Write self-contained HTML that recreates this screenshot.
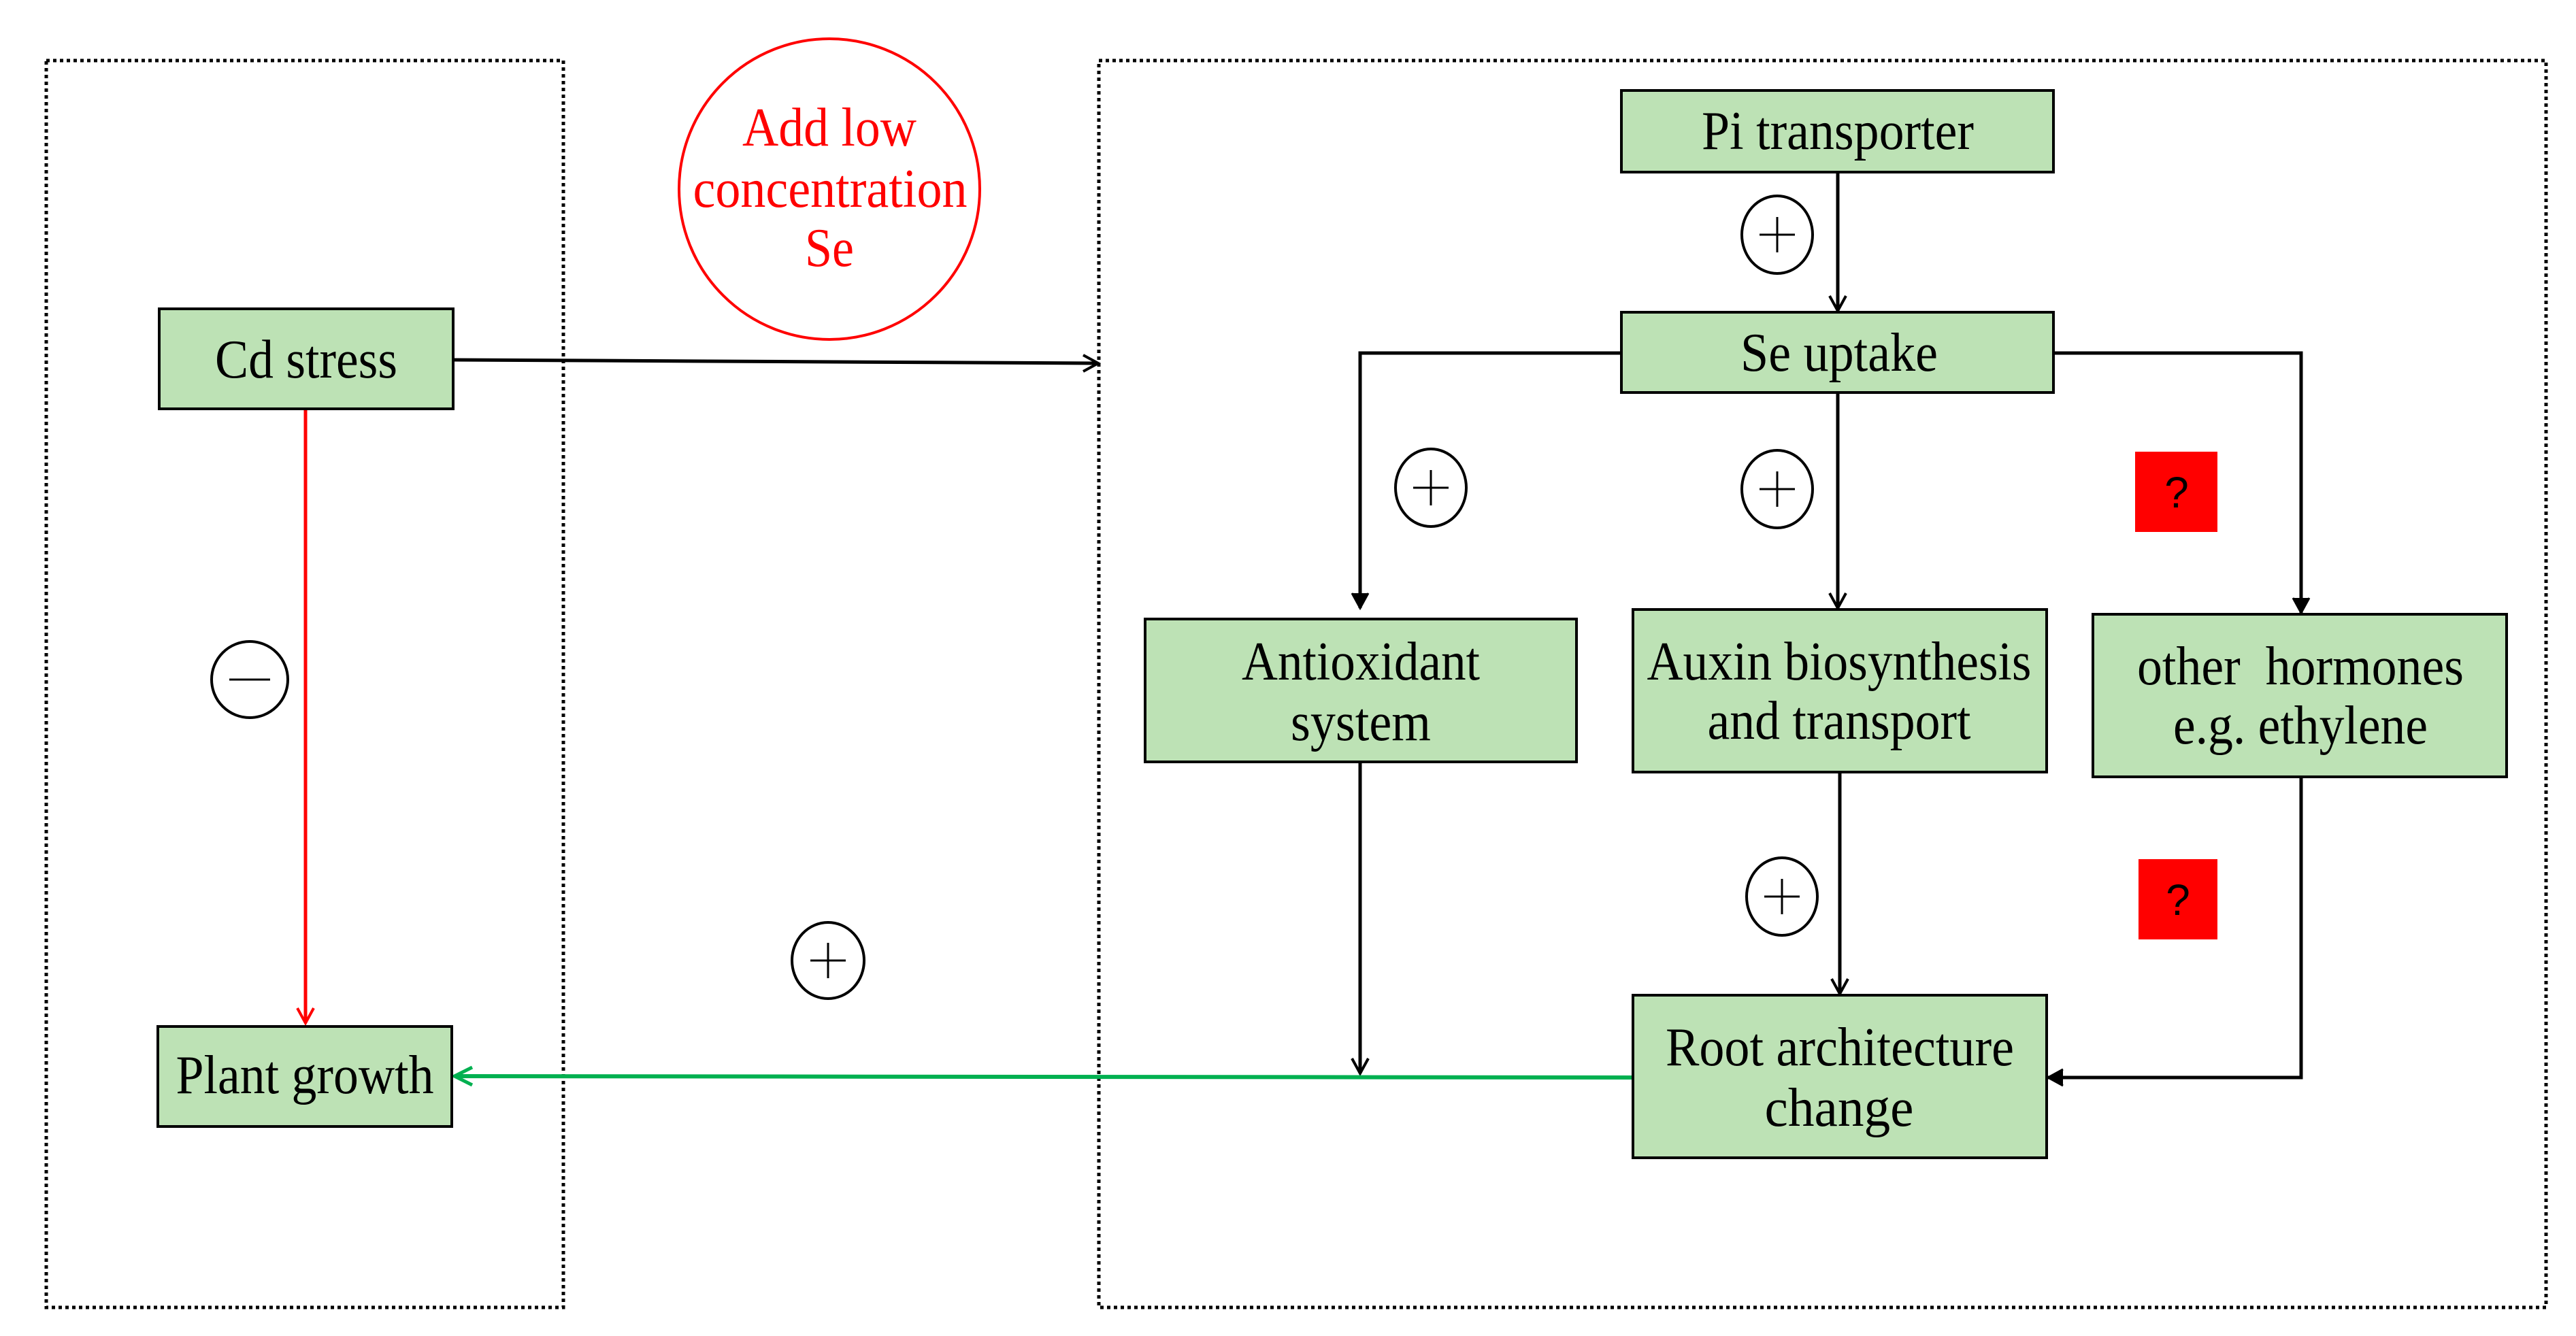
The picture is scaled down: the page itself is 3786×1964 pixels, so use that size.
<!DOCTYPE html>
<html><head><meta charset="utf-8"><style>html,body{margin:0;padding:0;background:#fff}svg{display:block}svg text{font-family:"Liberation Serif","Times New Roman",serif}</style></head>
<body>
<svg width="3786" height="1964" viewBox="0 0 3786 1964" xmlns="http://www.w3.org/2000/svg" font-size="80">
<g fill="none" stroke="#000" stroke-width="5" stroke-dasharray="5,5">
<rect x="68" y="89" width="760" height="1833"/>
<rect x="1615" y="89" width="2127" height="1833"/>
</g>
<circle cx="1219" cy="278" r="221" fill="none" stroke="#f00" stroke-width="4"/>
<g fill="#f00" text-anchor="middle">
<text x="1219" y="214" textLength="256" lengthAdjust="spacingAndGlyphs">Add low</text>
<text x="1220" y="304" textLength="403" lengthAdjust="spacingAndGlyphs">concentration</text>
<text x="1219" y="391" textLength="72" lengthAdjust="spacingAndGlyphs">Se</text>
</g>
<g stroke="#000" stroke-width="5" fill="none">
<line x1="666" y1="529" x2="1612" y2="534"/>
<path d="M1592,522 L1614,534 L1592,546" stroke-width="4"/>
<line x1="2701" y1="253" x2="2701" y2="457"/>
<path d="M2689,435 L2701,457 L2713,435" stroke-width="4"/>
<polyline points="2383,519 1999,519 1999,894"/>
<path d="M1987,872 L1999,894 L2011,872" fill="#000" stroke-width="3"/>
<line x1="2701" y1="577" x2="2701" y2="894"/>
<path d="M2689,872 L2701,894 L2713,872" stroke-width="4"/>
<polyline points="3018,519 3382,519 3382,901"/>
<path d="M3370,879 L3382,901 L3394,879" fill="#000" stroke-width="3"/>
<line x1="1999" y1="1120" x2="1999" y2="1578"/>
<path d="M1987,1556 L1999,1578 L2011,1556" stroke-width="4"/>
<line x1="2704" y1="1135" x2="2704" y2="1461"/>
<path d="M2692,1439 L2704,1461 L2716,1439" stroke-width="4"/>
<polyline points="3382,1142 3382,1584 3010,1584"/>
<path d="M3032,1572 L3010,1584 L3032,1596" fill="#000" stroke-width="3"/>
</g>
<line x1="449" y1="601" x2="449" y2="1504" stroke="#f00" stroke-width="5"/>
<path d="M437,1482 L449,1504 L461,1482" stroke="#f00" stroke-width="4" fill="none"/>
<line x1="2400" y1="1584" x2="668" y2="1582" stroke="#00b050" stroke-width="6"/>
<path d="M694,1569 L668,1582 L694,1595" stroke="#00b050" stroke-width="5" fill="none"/>
<g fill="#bde2b5" stroke="#000" stroke-width="4">
<rect x="234" y="454" width="432" height="147"/>
<rect x="232" y="1509" width="432" height="147"/>
<rect x="2383" y="133" width="635" height="120"/>
<rect x="2383" y="459" width="635" height="118"/>
<rect x="1683" y="910" width="634" height="210"/>
<rect x="2400" y="896" width="608" height="239"/>
<rect x="3076" y="903" width="608" height="239"/>
<rect x="2400" y="1463" width="608" height="239"/>
</g>
<g fill="#000" text-anchor="middle">
<text x="450" y="555" textLength="268" lengthAdjust="spacingAndGlyphs">Cd stress</text>
<text x="448" y="1607" textLength="379" lengthAdjust="spacingAndGlyphs">Plant growth</text>
<text x="2701" y="219" textLength="400" lengthAdjust="spacingAndGlyphs">Pi transporter</text>
<text x="2703" y="545" textLength="290" lengthAdjust="spacingAndGlyphs">Se uptake</text>
<text x="2000" y="999" textLength="350" lengthAdjust="spacingAndGlyphs">Antioxidant</text>
<text x="2000" y="1088" textLength="206" lengthAdjust="spacingAndGlyphs">system</text>
<text x="2703" y="999" textLength="565" lengthAdjust="spacingAndGlyphs">Auxin biosynthesis</text>
<text x="2703" y="1086" textLength="387" lengthAdjust="spacingAndGlyphs">and transport</text>
<text x="3381" y="1006" textLength="480" lengthAdjust="spacingAndGlyphs" xml:space="preserve">other  hormones</text>
<text x="3381" y="1093" textLength="374" lengthAdjust="spacingAndGlyphs">e.g. ethylene</text>
<text x="2704" y="1566" textLength="512" lengthAdjust="spacingAndGlyphs">Root architecture</text>
<text x="2703" y="1655" textLength="219" lengthAdjust="spacingAndGlyphs">change</text>
</g>
<g fill="#fff" stroke="#000" stroke-width="4">
<ellipse cx="2612" cy="345" rx="52" ry="57"/>
<ellipse cx="2103" cy="717" rx="52" ry="57"/>
<ellipse cx="2612" cy="719" rx="52" ry="57"/>
<ellipse cx="2619" cy="1318" rx="52" ry="57"/>
<ellipse cx="1217" cy="1412" rx="53" ry="56"/>
<ellipse cx="367" cy="999" rx="56" ry="56"/>
</g>
<g stroke="#000" stroke-width="3">
<path d="M2586,345 H2638 M2612,319 V371"/>
<path d="M2077,717 H2129 M2103,691 V743"/>
<path d="M2586,719 H2638 M2612,693 V745"/>
<path d="M2593,1318 H2645 M2619,1292 V1344"/>
<path d="M1191,1412 H1243 M1217,1386 V1438"/>
<path d="M337,999 H397"/>
</g>
<rect x="3138" y="664" width="121" height="118" fill="#f00"/>
<rect x="3143" y="1263" width="116" height="118" fill="#f00"/>
<g font-size="64" text-anchor="middle" fill="#000">
<text x="3199" y="746" style="font-family:'Liberation Sans',sans-serif">?</text>
<text x="3201" y="1345" style="font-family:'Liberation Sans',sans-serif">?</text>
</g>
</svg>
</body></html>
